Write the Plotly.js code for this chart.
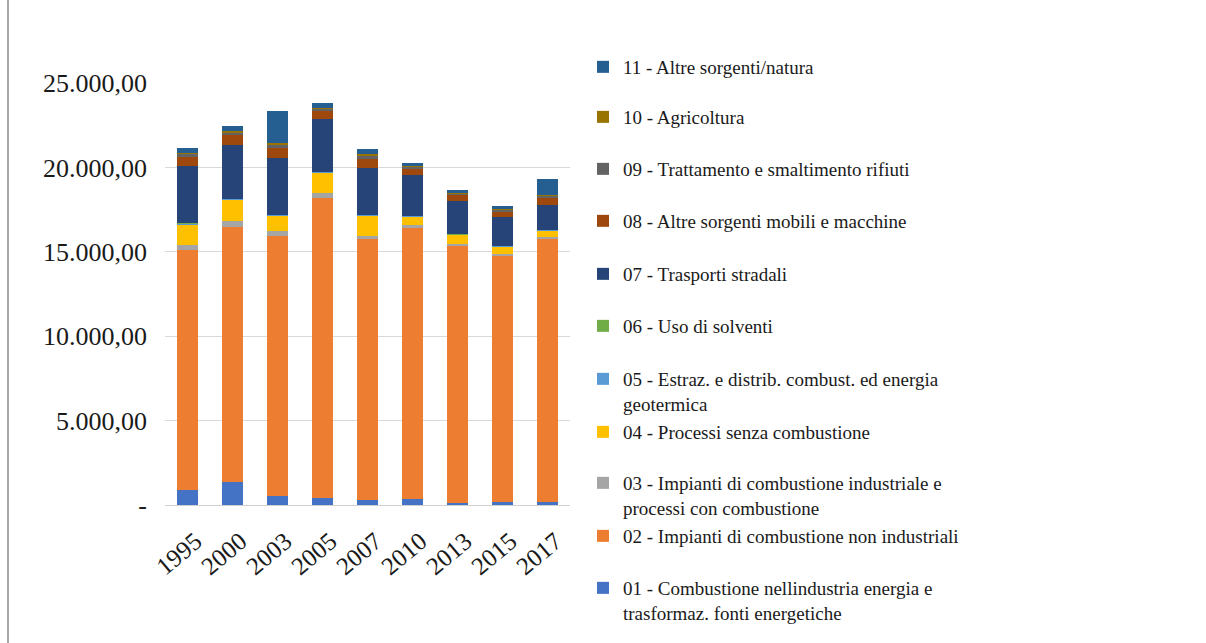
<!DOCTYPE html>
<html><head><meta charset="utf-8">
<script src="https://cdn.plot.ly/plotly-3.0.1.min.js"></script>
<style>
html,body{margin:0;padding:0;background:#fff;overflow:hidden}
#wrap{position:absolute;left:0;top:0;width:1206px;height:643px}
#chart{position:absolute;left:0;top:0;width:1206px;height:643px}
#edge{position:absolute;left:7px;top:0;width:2px;height:643px;background:#a8a8a8}
</style>
</head><body>
<div id="wrap"><div id="chart"></div><div id="edge"></div></div>
<script>
// ---- data ----
const years = ['1995','2000','2003','2005','2007','2010','2013','2015','2017'];
const seriesNames = [
  '01 - Combustione nellindustria energia e<br>trasformaz. fonti energetiche',
  '02 - Impianti di combustione non industriali',
  '03 - Impianti di combustione industriale e<br>processi con combustione',
  '04 - Processi senza combustione',
  '05 - Estraz. e distrib. combust. ed energia<br>geotermica',
  '06 - Uso di solventi',
  '07 - Trasporti stradali',
  '08 - Altre sorgenti mobili e macchine',
  '09 - Trattamento e smaltimento rifiuti',
  '10 - Agricoltura',
  '11 - Altre sorgenti/natura'
];
const s01 = [900, 1380, 530, 410, 290, 350, 145, 170, 170];
const s02 = [14200, 15060, 15400, 17760, 15480, 16070, 15200, 14600, 15570];
const s03 = [300, 360, 300, 290, 175, 175, 115, 115, 115];
const s04 = [1200, 1260, 890, 1180, 1170, 465, 520, 400, 400];
const s05 = [60, 40, 60, 60, 60, 60, 30, 30, 30];
const s06 = [30, 20, 30, 30, 30, 30, 30, 30, 30];
const s07 = [3400, 3180, 3370, 3120, 2750, 2380, 1960, 1700, 1470];
const s08 = [500, 600, 590, 470, 530, 350, 345, 340, 400];
const s09 = [180, 120, 180, 120, 175, 120, 85, 85, 115];
const s10 = [100, 120, 120, 90, 120, 60, 60, 55, 55];
const s11 = [250, 300, 1900, 290, 290, 175, 170, 170, 960];
const yTickVals = [0, 5000, 10000, 15000, 20000, 25000];
const yTickText = ['-', '5.000,00', '10.000,00', '15.000,00', '20.000,00', '25.000,00'];

// ---- styles ----
const allSeries = [s01, s02, s03, s04, s05, s06, s07, s08, s09, s10, s11];
const colors = ['#4472C4','#ED7D31','#A5A5A5','#FFC000','#5B9BD5','#70AD47',
                '#264478','#9E480E','#636363','#997300','#255E91'];
const FONT = 'Liberation Serif';
// pixel y of first text line of each legend entry (01 .. 11)
const legendPix = [589, 537, 484, 433, 380, 327, 275, 222, 170, 118, 68];
const plotTop = 83, plotBottom = 506, plotLeft = 165, plotRight = 570;

const traces = allSeries.map((vals, i) => ({
  type: 'bar',
  name: seriesNames[i],
  x: years,
  y: vals,
  marker: {color: colors[i], line: {width: 0}},
  legend: i === 0 ? 'legend' : 'legend' + (i + 1),
  hoverinfo: 'name+y'
}));

const layout = {
  width: 1206, height: 643,
  paper_bgcolor: '#ffffff', plot_bgcolor: '#ffffff',
  margin: {l: plotLeft, r: 1206 - plotRight, t: plotTop, b: 643 - plotBottom, pad: 0},
  barmode: 'stack',
  bargap: 0.54,
  font: {family: FONT, color: '#1a1a1a', size: 18},
  showlegend: true,
  xaxis: {
    type: 'category',
    tickangle: -40,
    tickfont: {family: FONT, size: 25, color: '#1a1a1a'},
    showgrid: false, zeroline: false,
    showline: false,
    ticks: '',
    ticklabelstandoff: 16,
    ticklabelshift: 8
  },
  yaxis: {
    range: [0, 25000],
    tickvals: yTickVals,
    ticktext: yTickText,
    tickfont: {family: FONT, size: 26, color: '#1a1a1a'},
    showgrid: true, gridcolor: '#d9d9d9', gridwidth: 1,
    zeroline: true, zerolinecolor: '#d0d0d0', zerolinewidth: 1,
    ticks: '',
    ticklabelstandoff: 17,
    fixedrange: true
  }
};

const pw = plotRight - plotLeft, ph = plotBottom - plotTop;
legendPix.forEach((py, i) => {
  const key = i === 0 ? 'legend' : 'legend' + (i + 1);
  layout[key] = {
    x: (583 - plotLeft) / pw,
    xanchor: 'left',
    y: (plotBottom - (py - 20)) / ph,
    yanchor: 'top',
    valign: 'top',
    bgcolor: 'rgba(0,0,0,0)',
    borderwidth: 0,
    font: {family: FONT, size: 19, color: '#1a1a1a'},
    itemclick: false, itemdoubleclick: false
  };
});

Plotly.newPlot('chart', traces, layout, {displayModeBar: false, staticPlot: true});
</script>
</body></html>
